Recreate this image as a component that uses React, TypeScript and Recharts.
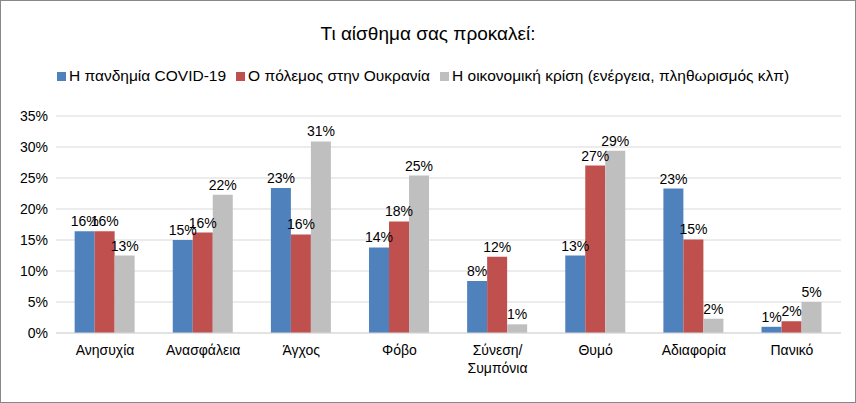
import React from "react";
import { BarChart, Bar, XAxis, YAxis, CartesianGrid, LabelList } from "recharts";

const categories = ["Ανησυχία", "Ανασφάλεια", "Άγχος", "Φόβο", "Σύνεση/ Συμπόνια", "Θυμό", "Αδιαφορία", "Πανικό"];
const covid = [16.4, 15.0, 23.4, 13.8, 8.4, 12.5, 23.3, 1.0];
const war = [16.4, 16.2, 15.9, 18.0, 12.3, 27.0, 15.1, 1.9];
const economy = [12.5, 22.3, 30.9, 25.4, 1.4, 29.4, 2.3, 5.0];
const yTicks = [0, 5, 10, 15, 20, 25, 30, 35];

const seriesNames = ["Η πανδημία COVID-19", "Ο πόλεμος στην Ουκρανία", "Η οικονομική κρίση (ενέργεια, πληθωρισμός κλπ)"];
const colors = ["#4F81BD", "#C0504D", "#BFBFBF"];

const data = categories.map((name, i) => ({ name, covid: covid[i], war: war[i], economy: economy[i] }));

const font = "'Liberation Sans', Arial, sans-serif";

const CatTick = (props: any) => {
  const { x, y, payload } = props;
  const lines = String(payload.value).split(" ");
  return (
    <text x={x} y={y + 14} textAnchor="middle" fontSize={14} fill="#000" fontFamily={font}>
      {lines.map((l, i) => (
        <tspan key={i} x={x} dy={i === 0 ? 0 : 18}>{l}</tspan>
      ))}
    </text>
  );
};

const fmt = (v: any) => `${Math.round(Number(v))}%`;

export default function App() {
  const keys = ["covid", "war", "economy"];
  return (
    <div style={{ position: "absolute", left: 0, top: 0, width: 854, height: 401, border: "1px solid #888", background: "#fff", fontFamily: font }}>
      <div style={{ position: "absolute", top: 22, width: "100%", textAlign: "center", fontSize: 19 }}>
        Τι αίσθημα σας προκαλεί:
      </div>
      <div style={{ position: "absolute", top: 66, left: 56, display: "flex", fontSize: 15.5, gap: 10 }}>
        {seriesNames.map((n, i) => (
          <div key={n} style={{ display: "flex", alignItems: "center" }}>
            <span style={{ width: 9, height: 9, background: colors[i], display: "inline-block", marginRight: 3 }} />
            {n}
          </div>
        ))}
      </div>
      <BarChart
        width={854}
        height={401}
        data={data}
        margin={{ top: 115, right: 14, left: 0, bottom: 19 }}
        barCategoryGap="19%"
        barGap={0}
      >
        <CartesianGrid vertical={false} stroke="#d9d9d9" />
        <XAxis dataKey="name" tick={<CatTick />} height={50} interval={0} tickLine={false} axisLine={{ stroke: "#d9d9d9" }} />
        <YAxis
          domain={[0, 35]}
          ticks={yTicks}
          width={55}
          tickFormatter={(v) => `${v}%`}
          tick={{ fontSize: 14, fill: "#000", fontFamily: font }}
          tickLine={false}
          axisLine={false}
        />
        {keys.map((k, i) => (
          <Bar key={k} dataKey={k} fill={colors[i]} isAnimationActive={false}>
            <LabelList dataKey={k} position="top" formatter={fmt} style={{ fontSize: 14, fill: "#000", fontFamily: font }} />
          </Bar>
        ))}
      </BarChart>
    </div>
  );
}
